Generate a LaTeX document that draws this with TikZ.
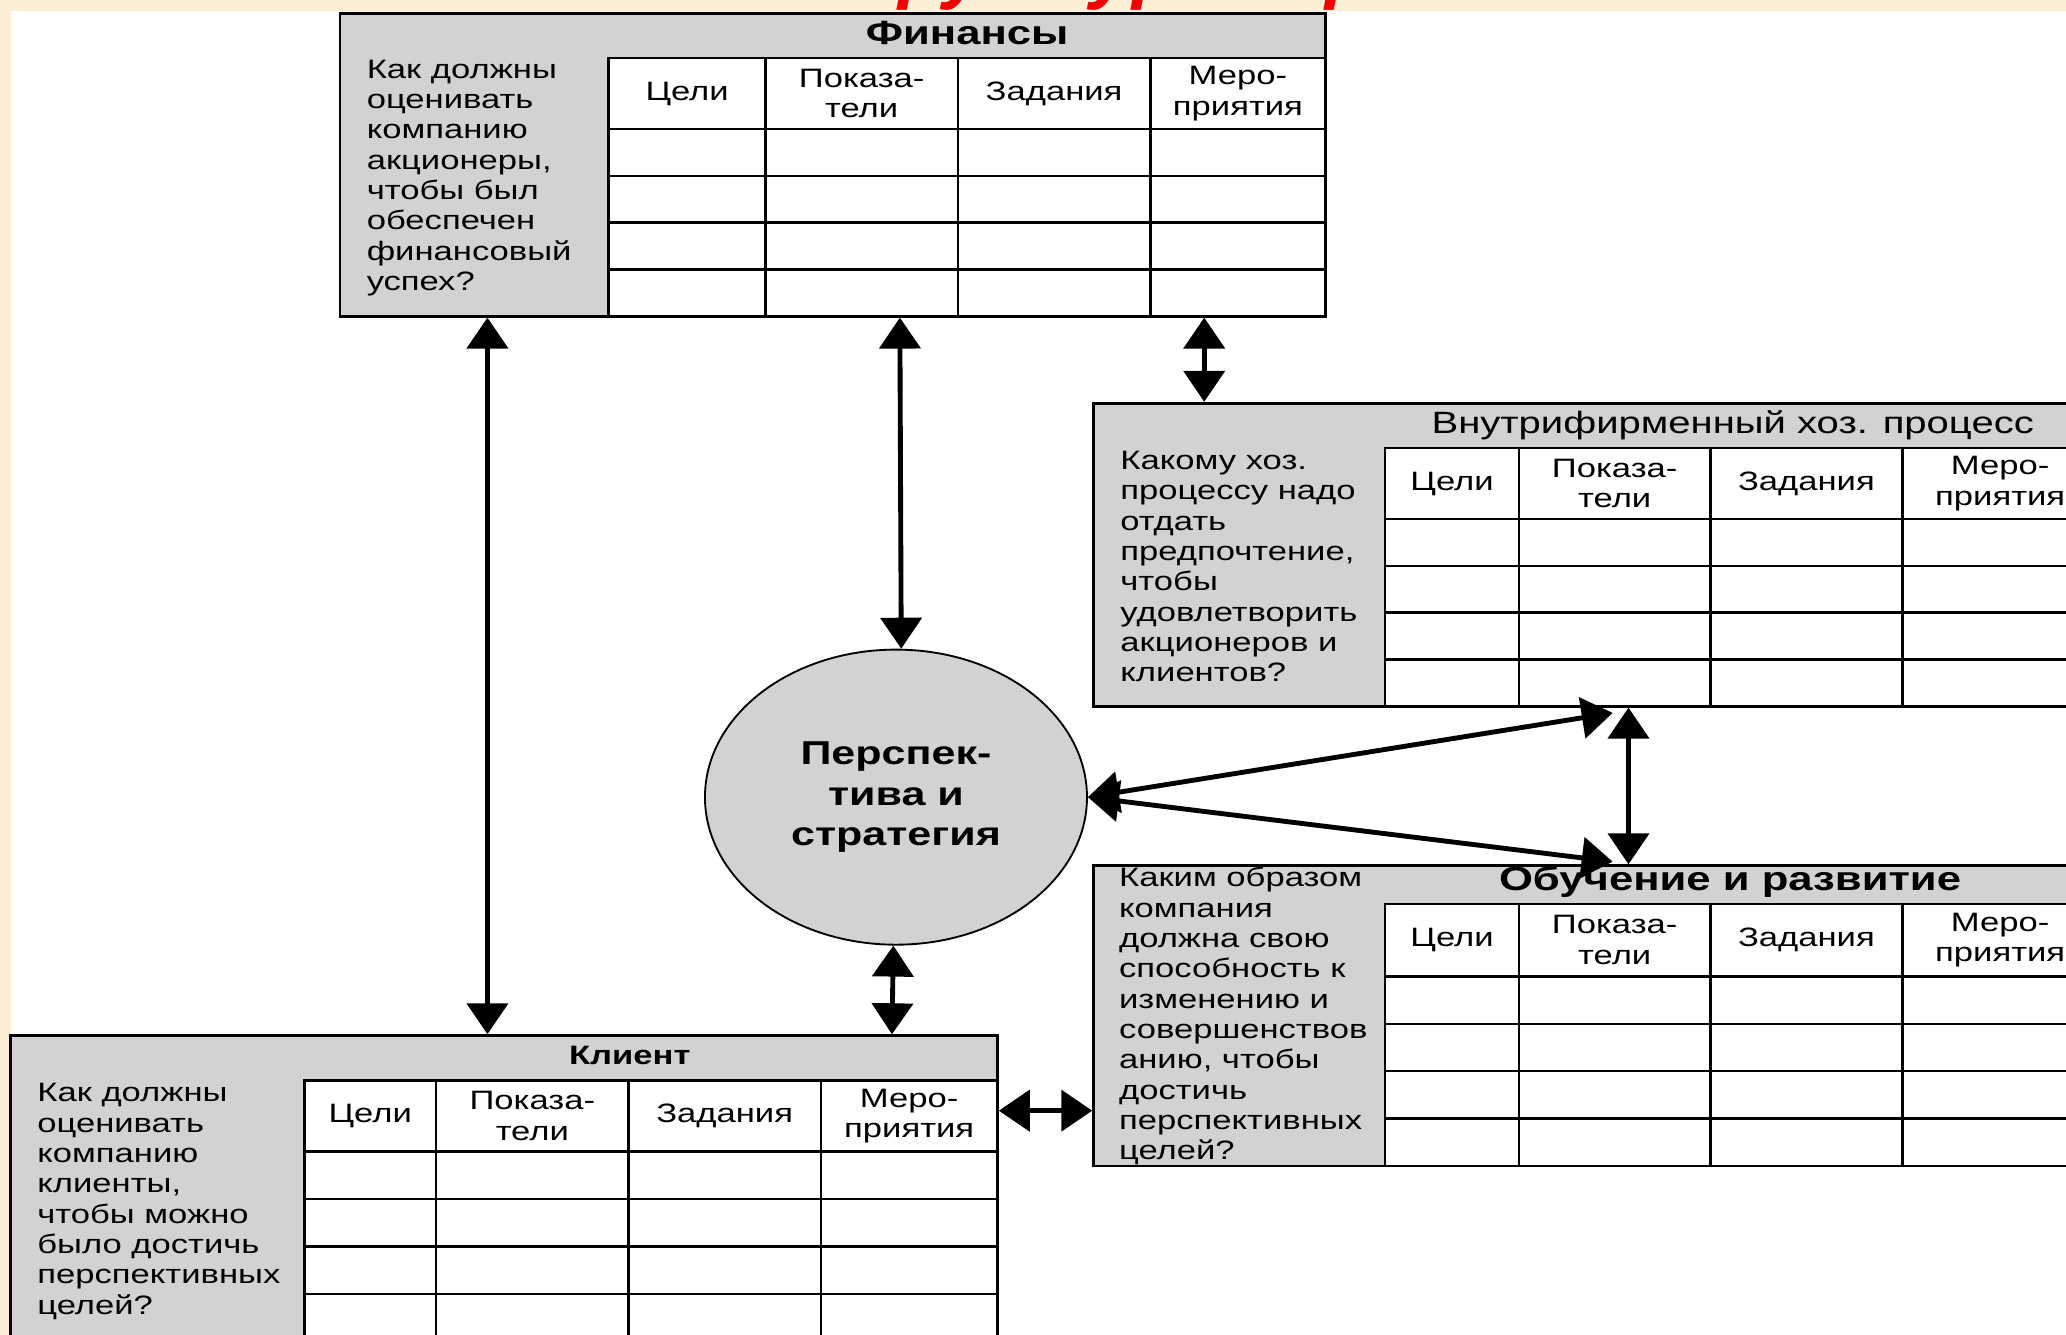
\documentclass[tikz,border=0pt]{standalone}
\usepackage{fontspec}
\setmainfont{Liberation Sans}[FakeStretch=1.3]
\newfontfamily\titlefont{Liberation Sans}
\usetikzlibrary{arrows.meta,shapes.geometric,fit,calc}
\definecolor{cream}{HTML}{FCEFD6}
\definecolor{boxgray}{HTML}{D2D2D2}
\definecolor{titlered}{HTML}{F20000}
\tikzset{
  box/.style={draw, fill=boxgray, line width=1.2pt, inner sep=0pt},
  tabline/.style={line width=1.1pt},
  hdr/.style={align=center, inner sep=0pt, font=\fontsize{11.5}{13.1}\selectfont},
  qtext/.style={align=left, inner sep=0pt, anchor=north west, font=\fontsize{11.5}{13.1}\selectfont},
  btitle/.style={inner sep=0pt, font=\bfseries\fontsize{14.5}{17}\selectfont},
  link/.style={line width=2.1pt, {Triangle[width=0.62cm,length=0.47cm]}-{Triangle[width=0.62cm,length=0.47cm]}},
}
\newcommand\bsctab[9]{%
  \fill[white] (#2,#7) rectangle (#6,#9);
  \draw[tabline] (#2,#7) rectangle (#6,#9);
  \foreach \cx in {#3,#4,#5} {\draw[tabline] (\cx,#7) -- (\cx,#9);}
  \foreach \k in {0,1,2,3} {\draw[tabline] (#2,{#8+\k*(#9-#8)/4}) -- (#6,{#8+\k*(#9-#8)/4});}
  \node[hdr] (#1-c1) at ({(#2+#3)/2},{(#7+#8)/2}) {Цели};
  \node[hdr] (#1-c2) at ({(#3+#4)/2},{(#7+#8)/2}) {Показа-\\тели};
  \node[hdr] (#1-c3) at ({(#4+#5)/2},{(#7+#8)/2}) {Задания};
  \node[hdr] (#1-c4) at ({(#5+#6)/2},{(#7+#8)/2}) {Меро-\\приятия};
}
\begin{document}
\begin{tikzpicture}[x=0.02cm,y=-0.02cm]
\useasboundingbox (0,0) rectangle (1568,1013);
\clip (0,0) rectangle (1568,1013);
\fill[white] (0,0) rectangle (1568,1013);
\fill[cream] (0,0) rectangle (1568,8);
\fill[cream] (0,0) rectangle (8,1013);
\begin{scope}
  \clip (0,0) rectangle (1568,9);
  \node[anchor=base west, inner sep=0pt, text=titlered, font=\titlefont\bfseries\itshape\fontsize{33}{36}\selectfont] (ttl) at (588,-4) {Структура карты};
\end{scope}

% Finance
\node[box, fit={(258,10) (1006,240)}] (fin) {};
\bsctab{fin}{462}{581}{727}{873}{1006}{44}{98}{240}
\node[btitle] (fin-t) at (734,25) {Финансы};
\node[qtext] (fin-q) at (278,45) {Как должны\\оценивать\\компанию\\акционеры,\\чтобы был\\обеспечен\\финансовый\\успех?};

% Internal process
\node[box, fit={(830,306) (1592,536)}] (int) {};
\bsctab{int}{1051}{1153}{1298}{1444}{1592}{340}{394}{536}
\node[inner sep=0pt, font=\fontsize{13.3}{15}\selectfont] (int-t) at (1315,323) {Внутрифирменный хоз. процесс};
\node[qtext] (int-q) at (850,342) {Какому хоз.\\процессу надо\\отдать\\предпочтение,\\чтобы\\удовлетворить\\акционеров и\\клиентов?};

% Learning
\node[box, fit={(830,657) (1592,885)}] (lrn) {};
\bsctab{lrn}{1051}{1153}{1298}{1444}{1592}{686}{741}{885}
\node[btitle] (lrn-t) at (1313,669) {Обучение и развитие};
\node[qtext] (lrn-q) at (849,658) {Каким образом\\компания\\должна свою\\способность к\\изменению и\\совершенствов\\анию, чтобы\\достичь\\перспективных\\целей?};

% Client
\node[box, fit={(8,786) (757,1030)}] (cli) {};
\bsctab{cli}{231}{331}{477}{623}{757}{820}{874}{1018}
\node[inner sep=0pt, font=\bfseries\fontsize{11.5}{13}\selectfont] (cli-t) at (478,801) {Клиент};
\node[qtext] (cli-q) at (28,822) {Как должны\\оценивать\\компанию\\клиенты,\\чтобы можно\\было достичь\\перспективных\\целей?};

% Strategy
\node[ellipse, draw, fill=boxgray, line width=0.8pt, minimum width=5.8cm, minimum height=4.48cm, inner sep=0pt, align=center, font=\bfseries\fontsize{14.3}{17.6}\selectfont] (per) at (680,605) {Перспек-\\тива и\\стратегия};

% Connectors
\draw[link] ($(fin.south west)+(113,0)$) -- ($(cli.north west)+(363,0)$);
\draw[link] ($(fin.south west)+(426,0)$) -- ($(per.north)+(4,0)$);
\draw[link] ($(fin.south west)+(657,0)$) -- ($(int.north west)+(85,0)$);
\draw[link] ($(per.south)+(-2,0)$) -- ($(cli.north west)+(670,0)$);
\draw[link] ($(cli.north east)+(0,58)$) -- ($(lrn.north west)+(0,187)$);
\draw[link] (per.east) -- ($(int.south west)+(395,4)$);
\draw[link] (per.east) -- ($(lrn.north west)+(395,-2)$);
\draw[link] ($(int.south west)+(407,0)$) -- ($(lrn.north west)+(407,0)$);
\end{tikzpicture}
\end{document}
